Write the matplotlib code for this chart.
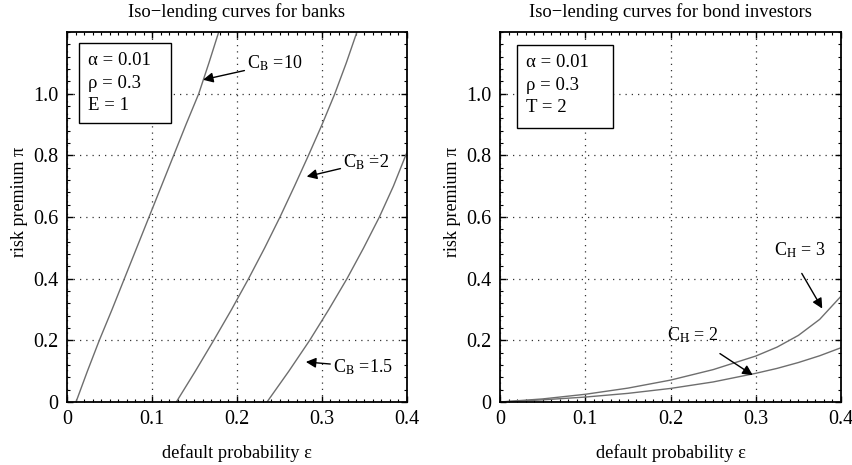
import numpy as np
import matplotlib.pyplot as plt
from matplotlib.ticker import MultipleLocator

plt.rcParams['font.family'] = ['Liberation Serif', 'DejaVu Serif']
plt.rcParams['mathtext.fontset'] = 'stix'

# left panel: iso-lending curves for banks (risk premium -> default probability)
pi_bank = [0.0, 0.1, 0.2, 0.3, 0.4, 0.5, 0.6, 0.7, 0.8, 0.9, 1.0, 1.1, 1.2]
eps_cb10 = [0.0106, 0.024, 0.038, 0.053, 0.0675, 0.082, 0.0965, 0.111, 0.1255, 0.140, 0.155, 0.167, 0.1785]
eps_cb2 = [0.1286, 0.151, 0.1726, 0.1936, 0.2136, 0.2326, 0.2506, 0.2676, 0.2841, 0.3001, 0.3151, 0.3286, 0.3411]
pi_cb15 = [0.0, 0.1, 0.2, 0.3, 0.4, 0.5, 0.6, 0.7, 0.8, 0.81]
eps_cb15 = [0.2353, 0.261, 0.2855, 0.308, 0.3294, 0.349, 0.3675, 0.384, 0.3985, 0.400]

# right panel: bond investors
eps_bond = [0.0, 0.05, 0.1, 0.15, 0.2, 0.25, 0.3, 0.325, 0.35, 0.375, 0.4]
pi_ch3 = [0.0, 0.010, 0.025, 0.045, 0.071, 0.105, 0.149, 0.178, 0.216, 0.268, 0.343]
pi_ch2 = [0.0, 0.007, 0.016, 0.028, 0.044, 0.065, 0.093, 0.109, 0.128, 0.150, 0.176]

fig = plt.figure(figsize=(8.53, 4.65), dpi=100)
W, H = 853, 465
ax1 = fig.add_axes([67 / W, (H - 402) / H, 340 / W, 370 / H])
ax2 = fig.add_axes([500 / W, (H - 402) / H, 341 / W, 370 / H])

line_col = '#6e6e6e'
ax1.plot(eps_cb10, pi_bank, color=line_col, lw=1)
ax1.plot(eps_cb2, pi_bank, color=line_col, lw=1)
ax1.plot(eps_cb15, pi_cb15, color=line_col, lw=1)
ax2.plot(eps_bond, pi_ch3, color=line_col, lw=1)
ax2.plot(eps_bond, pi_ch2, color=line_col, lw=1)

arrow = dict(arrowstyle='-|>', color='k', lw=1, mutation_scale=15, shrinkA=0, shrinkB=0)
fs = 13

ax1.annotate('C$_{\\mathrm{B}}$ =10', xy=(0.160, 1.045), xytext=(0.212, 1.097),
             fontsize=fs, va='center', ha='left', arrowprops=arrow)
ax1.annotate('C$_{\\mathrm{B}}$ =2', xy=(0.282, 0.731), xytext=(0.325, 0.777),
             fontsize=fs, va='center', ha='left', arrowprops=arrow)
ax1.annotate('C$_{\\mathrm{B}}$ =1.5', xy=(0.281, 0.130), xytext=(0.313, 0.114),
             fontsize=fs, va='center', ha='left', arrowprops=arrow)

ax2.annotate('', xy=(0.378, 0.303), xytext=(0.354, 0.417), arrowprops=arrow)
ax2.text(0.321, 0.492, 'C$_{\\mathrm{H}}$ = 3', fontsize=fs, va='center', ha='left')
ax2.annotate('', xy=(0.2965, 0.087), xytext=(0.258, 0.157), arrowprops=arrow)
ax2.text(0.1955, 0.217, 'C$_{\\mathrm{H}}$ = 2', fontsize=fs, va='center', ha='left')

titles = ['Iso\u2212lending curves for banks', 'Iso\u2212lending curves for bond investors']
params = [['\u03b1 = 0.01', '\u03c1 = 0.3', 'E = 1'], ['\u03b1 = 0.01', '\u03c1 = 0.3', 'T = 2']]
boxes = [(79, 43, 171, 123), (517, 45, 613, 128)]
axes_px = [(67, 340), (500, 341)]

for ax, title, par, box, (x0, w) in zip([ax1, ax2], titles, params, boxes, axes_px):
    ax.set_xlim(0, 0.4)
    ax.set_ylim(0, 1.2)
    ax.set_xticks([0, 0.1, 0.2, 0.3, 0.4])
    ax.set_xticklabels(['0', '0.1', '0.2', '0.3', '0.4'])
    ax.set_yticks([0, 0.2, 0.4, 0.6, 0.8, 1.0])
    ax.set_yticklabels(['0', '0.2', '0.4', '0.6', '0.8', '1.0'])
    ax.xaxis.set_minor_locator(MultipleLocator(0.01))
    ax.yaxis.set_minor_locator(MultipleLocator(0.04))
    ax.tick_params(which='both', direction='in', top=True, right=True, labelsize=14.5)
    ax.tick_params(which='major', length=4, width=1)
    ax.tick_params(which='minor', length=2.5, width=0.8)
    ax.tick_params(axis='x', pad=6)
    ax.tick_params(axis='y', pad=6)
    ax.grid(True, which='major', linestyle=(0, (1, 4)), color='#333333', lw=0.9)
    for s in ax.spines.values():
        s.set_linewidth(1.3)
    ax.set_title(title, fontsize=13.4, pad=10.5)
    ax.set_xlabel('default probability \u03b5', fontsize=13.3)
    ax.set_ylabel('risk premium \u03c0', fontsize=13)
    ax.xaxis.set_label_coords(0.5, -0.114)
    ax.yaxis.set_label_coords(-39 / w, 0.54)

    # parameter box
    bx0, by0, bx1, by1 = box
    rect = plt.Rectangle(((bx0 - x0) / w, (402 - by1) / 370), (bx1 - bx0) / w, (by1 - by0) / 370,
                         transform=ax.transAxes, fill=True, facecolor='white',
                         edgecolor='k', lw=1, zorder=3)
    ax.add_patch(rect)
    for txt, ypx in zip(par, [by0 + 22, by0 + 45, by0 + 67]):
        ax.text((bx0 + 9 - x0) / w, (402 - ypx) / 370, txt, transform=ax.transAxes,
                fontsize=13.5, va='baseline', ha='left', zorder=4)

fig.savefig('out.png', dpi=100)
